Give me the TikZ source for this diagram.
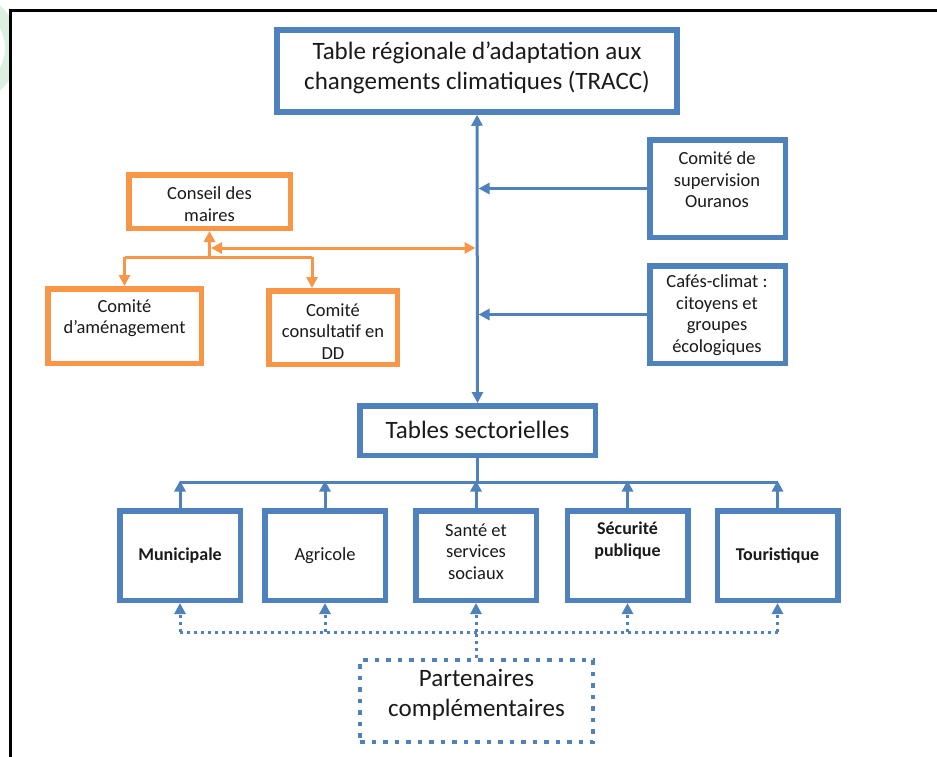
\documentclass[tikz,border=0pt]{standalone}
\usepackage{fontspec}
\setmainfont{Carlito}
\usetikzlibrary{arrows.meta,calc}
\definecolor{obBlue}{HTML}{4F81BD}
\definecolor{obOrange}{HTML}{F79646}
\definecolor{obText}{HTML}{1A1A1A}
\definecolor{obGreen}{HTML}{DCEFE0}
\tikzset{
  bbox/.style={draw=obBlue, line width=5.5pt, fill=white, inner sep=0pt, outer sep=2.75pt},
  obox/.style={draw=obOrange, line width=5.5pt, fill=white, inner sep=0pt, outer sep=2.75pt},
  dbox/.style={draw=obBlue, line width=4.5pt, dash pattern=on 4.5pt off 7pt, fill=white, inner sep=0pt, outer sep=2.25pt},
  lbl/.style={text=obText, align=center, inner sep=0pt, font=\fontsize{18.5}{21.5}\selectfont},
  blbl/.style={lbl, font=\bfseries\fontsize{18}{21.5}\selectfont},
  biglbl/.style={text=obText, align=center, inner sep=0pt, font=\fontsize{25}{30}\selectfont},
  conn/.style={draw=obBlue, line width=3pt},
  oconn/.style={draw=obOrange, line width=3pt},
  dconn/.style={draw=obBlue, line width=3pt, dash pattern=on 3pt off 4pt},
  arrowend/.style={-{Triangle[length=11pt,width=11pt]}},
  arrowboth/.style={{Triangle[length=11pt,width=11pt]}-{Triangle[length=11pt,width=11pt]}},
}
\begin{document}
\begin{tikzpicture}[x=1pt,y=-1pt]
\useasboundingbox (0,0) rectangle (937,756);
\fill[white] (0,0) rectangle (937,756);
% faint logo remnant
\begin{scope}
  \clip (0,0) rectangle (10,756);
  \draw[obGreen, line width=14pt] (-38,48) circle[radius=50];
\end{scope}
% frame
\draw[black, line width=3.4pt] (10.5,760) -- (10.5,10.5) -- (940,10.5);

% boxes
\node[bbox, minimum width=400pt, minimum height=82pt] (tracc) at (477,71) {};
\node[bbox, minimum width=135.5pt, minimum height=97.5pt] (ouranos) at (717.5,188.5) {};
\node[bbox, minimum width=135.5pt, minimum height=97.5pt] (cafes) at (717.5,314.5) {};
\node[obox, minimum width=161.5pt, minimum height=53.5pt] (conseil) at (209.5,201.5) {};
\node[obox, minimum width=153.5pt, minimum height=74.5pt] (amenag) at (124.5,326) {};
\node[obox, minimum width=128.5pt, minimum height=73.5pt] (consult) at (333,327.5) {};
\node[bbox, minimum width=235.5pt, minimum height=49.5pt] (tables) at (477.5,430.5) {};
\node[bbox, minimum width=120.5pt, minimum height=89.5pt] (muni) at (180,555.5) {};
\node[bbox, minimum width=120.5pt, minimum height=89.5pt] (agri) at (325,555.5) {};
\node[bbox, minimum width=120.5pt, minimum height=89.5pt] (sante) at (476,555.5) {};
\node[bbox, minimum width=120.5pt, minimum height=89.5pt] (secu) at (627.5,555.5) {};
\node[bbox, minimum width=120.5pt, minimum height=89.5pt] (tour) at (777.5,555.5) {};
\node[dbox, minimum width=233pt, minimum height=82pt] (part) at (476.5,701) {};

% labels
\node[biglbl] (tTracc) at (477,68) {Table régionale d’adaptation aux\\changements climatiques (TRACC)};
\node[lbl] (tOur) at (717,180) {Comité de\\supervision\\Ouranos};
\node[lbl] (tCaf) at (717,315) {Cafés-climat :\\citoyens et\\groupes\\écologiques};
\node[lbl] (tCons) at (209.5,204) {Conseil des\\maires};
\node[lbl] (tAmen) at (124.5,318) {Comité\\d’aménagement};
\node[lbl] (tConsu) at (333,331.5) {Comité\\consultatif en\\DD};
\node[biglbl] (tTab) at (477.5,430) {Tables sectorielles};
\node[blbl] (tMuni) at (180,555.5) {Municipale};
\node[lbl] (tAgri) at (325,555.5) {Agricole};
\node[lbl] (tSante) at (476,551.5) {Santé et\\services\\sociaux};
\node[blbl] (tSecu) at (627.5,540.5) {Sécurité\\publique};
\node[blbl] (tTour) at (777.5,555.5) {Touristique};
\node[biglbl] (tPart) at (476.5,695) {Partenaires\\complémentaires};

% main spine
\draw[conn, arrowboth] (tracc.south) -- (tables.north);
\draw[conn, arrowend, shorten >=1.5pt] (ouranos.west) -- (ouranos.west -| tracc.south);
\draw[conn, arrowend, shorten >=1.5pt] (cafes.west) -- (cafes.west -| tracc.south);

% orange group
\coordinate (ojoin) at (209.5,257);
\coordinate (omid) at (209.5,248);
\coordinate (oright) at (312,257);
\draw[oconn, arrowend] (ojoin) -- (conseil.south);
\draw[oconn, arrowboth, shorten <=1.5pt, shorten >=1.5pt] (omid) -- (omid -| tracc.south);
\draw[oconn] (ojoin -| amenag.north) -- (oright);
\draw[oconn, arrowend] (ojoin -| amenag.north) -- (amenag.north);
\draw[oconn, arrowend] (oright) -- (oright |- consult.north);

% sector bus
\coordinate (bus) at (477.5,482);
\draw[conn] (tables.south) -- (bus);
\draw[conn] (bus -| muni.north) -- (bus -| tour.north);
\foreach \b in {muni,agri,sante,secu,tour}{
  \draw[conn, arrowend] (\b.north) -- ([yshift=1.5pt]bus -| \b.north);
}

% partners bus
\coordinate (dbus) at (476.5,632);
\draw[dconn] (dbus -| muni.south) -- (dbus -| tour.south);
\draw[dconn] (part.north) -- (part.north |- dbus);
\foreach \b in {muni,agri,sante,secu,tour}{
  \draw[dconn, arrowend] (dbus -| \b.south) -- (\b.south);
}
\end{tikzpicture}
\end{document}
